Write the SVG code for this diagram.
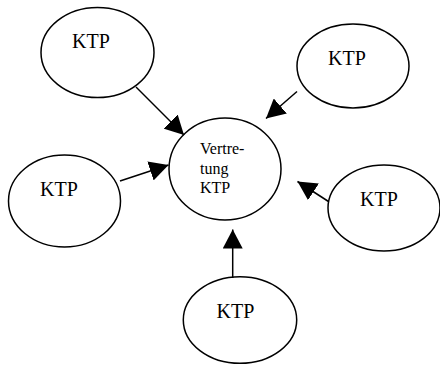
<svg xmlns="http://www.w3.org/2000/svg" width="440" height="365" viewBox="0 0 440 365" font-family="Liberation Serif, serif">
<defs>
<style>
.node{fill:#fff;stroke:#000;stroke-width:1.5}
.big{font-size:20px;fill:#000}
.small{font-size:16px;fill:#000}
.edge{stroke:#000;stroke-width:1.5;fill:none;marker-end:url(#ah)}
</style>
<marker id="ah" markerUnits="userSpaceOnUse" markerWidth="20" markerHeight="20" viewBox="0 0 20 20" refX="19" refY="10" orient="auto">
<path d="M0,0 L19,10 L0,20 Z" fill="#000"/>
</marker>
</defs>
<rect width="440" height="365" fill="#fff"/>
<g id="center">
<ellipse class="node" cx="225" cy="169" rx="56" ry="51"/>
<text class="small" font-family="Liberation Serif" x="200" y="154">Vertre-</text>
<text class="small" font-family="Liberation Serif" x="200" y="174">tung</text>
<text class="small" font-family="Liberation Serif" x="200" y="193">KTP</text>
</g>
<g id="ktp-topleft">
<ellipse class="node" cx="97.5" cy="52.5" rx="56.5" ry="45"/>
<text class="big" font-family="Liberation Serif" x="72" y="48">KTP</text>
</g>
<g id="ktp-topright">
<ellipse class="node" cx="353" cy="66" rx="56" ry="42"/>
<text class="big" font-family="Liberation Serif" x="328" y="65">KTP</text>
</g>
<g id="ktp-left">
<ellipse class="node" cx="64.5" cy="201" rx="56" ry="46"/>
<text class="big" font-family="Liberation Serif" x="40" y="196">KTP</text>
</g>
<g id="ktp-right">
<ellipse class="node" cx="384" cy="208" rx="56" ry="43"/>
<text class="big" font-family="Liberation Serif" x="360" y="206">KTP</text>
</g>
<g id="ktp-bottom">
<ellipse class="node" cx="240" cy="320" rx="56.7" ry="43.3"/>
<text class="big" font-family="Liberation Serif" x="216.5" y="318">KTP</text>
</g>
<g id="connectors">
<line class="edge" x1="136" y1="87" x2="184" y2="135"/>
<line class="edge" x1="297" y1="91.5" x2="266" y2="118.5"/>
<line class="edge" x1="120" y1="181" x2="168.5" y2="165"/>
<line class="edge" x1="328.5" y1="201.5" x2="297.5" y2="181.5"/>
<line class="edge" x1="232.7" y1="278" x2="232.7" y2="229.5"/>
</g>
</svg>
